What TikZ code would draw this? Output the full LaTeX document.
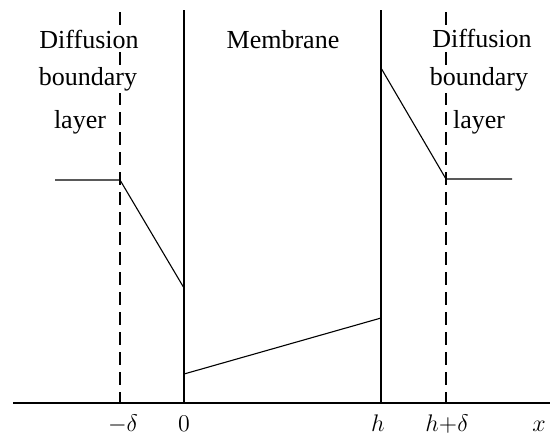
\documentclass[tikz,border=0pt]{standalone}
\usepackage{fontspec}
\setmainfont{Liberation Serif}
\usetikzlibrary{positioning}

\begin{document}
\begin{tikzpicture}[
    x = 0.5pt, y = -0.5pt,
    wall/.style = {
      line width = 0.55pt
    },
    edge/.style = {
      line width = 0.55pt, dash pattern = on 6.5pt off 3.5pt
    },
    conc/.style = {
      line width = 0.55pt, line join = miter
    },
    lbl/.style = {
      font = \fontsize{13}{15}\selectfont, fill = white,
      inner xsep = 0.5pt, inner ysep = 1pt, anchor = base
    },
    tick/.style = {
      font = \fontsize{13}{15}\selectfont, inner sep = 0pt, anchor = base
    },
    ]
\useasboundingbox (0,0) rectangle (550,446);

% axis
\coordinate (ax_l) at (13,403);
\coordinate (ax_r) at (550,403);
\draw [wall] (ax_l) -- (ax_r);

% membrane faces
\coordinate (m0_top) at (184,10);
\coordinate (m0_bot) at (184,403);
\coordinate (mh_top) at (381,10);
\coordinate (mh_bot) at (381,403);
\draw [wall] (m0_top) -- (m0_bot);
\draw [wall] (mh_top) -- (mh_bot);

% edges of the boundary layers
\coordinate (dl_top) at (120,12);
\coordinate (dl_bot) at (120,403);
\coordinate (dr_top) at (446,12);
\coordinate (dr_bot) at (446,403);
\draw [edge] (dl_top) -- (dl_bot);
\draw [edge] (dr_top) -- (dr_bot);

% concentration profile
\coordinate (cl_out) at (55,180);
\coordinate (cl_s) at (120,180);
\coordinate (cl_0) at (184,288);
\coordinate (cm_0) at (184,374);
\coordinate (cm_h) at (381,318);
\coordinate (cr_h) at (381,68);
\coordinate (cr_s) at (446,179);
\coordinate (cr_out) at (512,179);
\draw [conc] (cl_out) -- (cl_s) -- (cl_0);
\draw [conc] (cm_0) -- (cm_h);
\draw [conc] (cr_h) -- (cr_s) -- (cr_out);

% region labels
\node [lbl] (dif_l) at (89,48) {Diffusion};
\node [lbl] (bnd_l) at (88,85) {boundary};
\node [lbl] (lay_l) at (80,128) {layer};
\node [lbl] (memb) at (283,48) {Membrane};
\node [lbl] (dif_r) at (482,47) {Diffusion};
\node [lbl] (bnd_r) at (479,85) {boundary};
\node [lbl] (lay_r) at (479,128) {layer};

% axis labels
\node [tick] (t_md) at (123,431) {$-\delta$};
\node [tick] (t_0) at (184,431) {$0$};
\node [tick] (t_h) at (378,431) {$h$};
\node [tick] (t_hd) at (447,431) {$h{+}\delta$};
\node [tick] (t_x) at (539,431) {$x$};
\end{tikzpicture}
\end{document}
